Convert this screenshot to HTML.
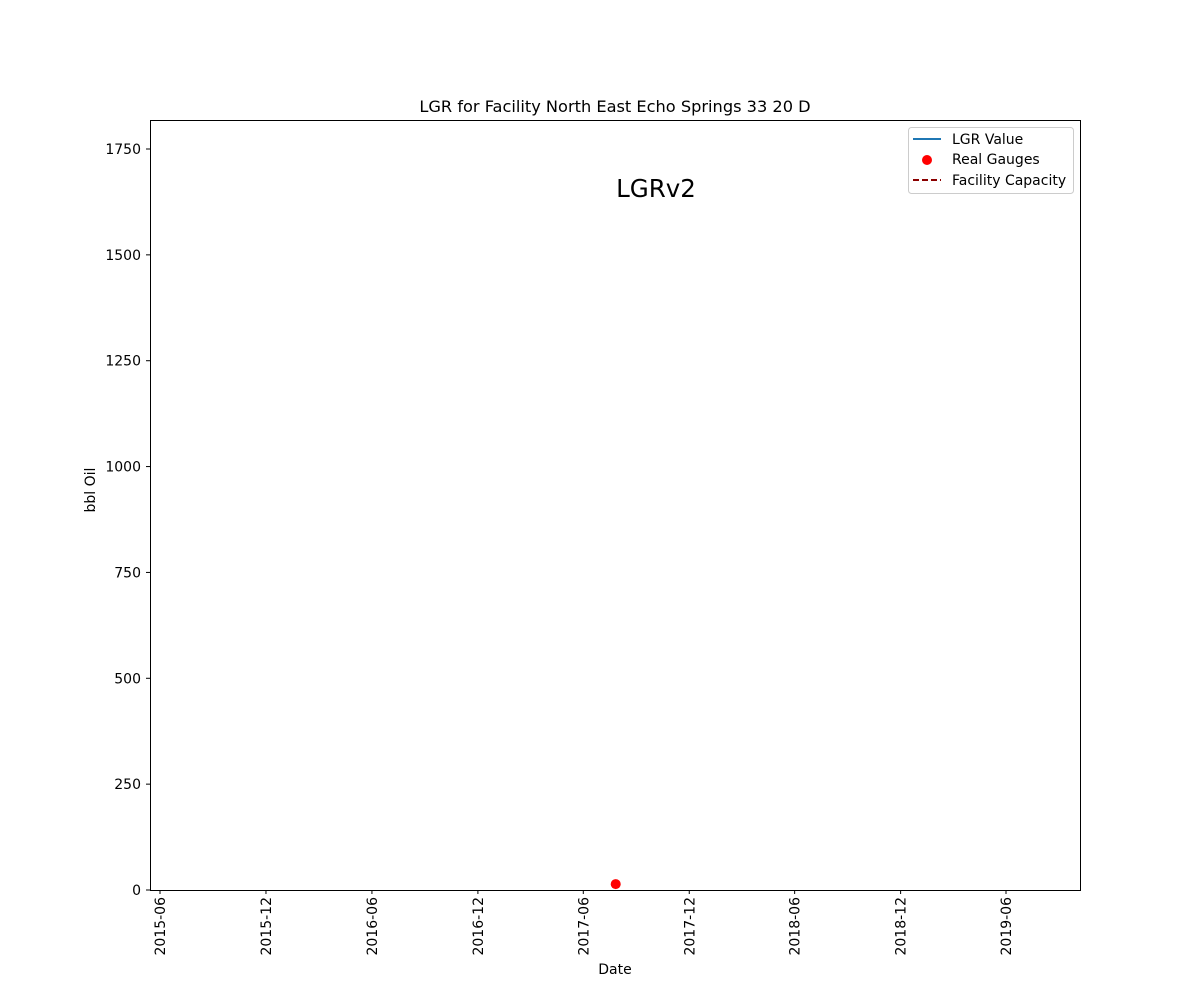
<!DOCTYPE html>
<html><head><meta charset="utf-8"><style>
body{margin:0;background:#fff}
text{font-family:"DejaVu Sans","Liberation Sans",sans-serif}
</style></head><body>
<svg id="chart" width="1200" height="1000" xmlns="http://www.w3.org/2000/svg">
<rect width="1200" height="1000" fill="#fff"/>
<text x="615" y="112" font-size="16.2" text-anchor="middle">LGR for Facility North East Echo Springs 33 20 D</text>
<text x="656" y="197" font-size="24.5" text-anchor="middle">LGRv2</text>
<g id="yticks"></g>
<g id="xticks"></g>
<g id="marks"></g>
<rect x="150.5" y="120.5" width="930" height="770" fill="none" stroke="#000" stroke-width="1"/>
<text x="95" y="490" font-size="14" text-anchor="middle" transform="rotate(-90 95 490)">bbl Oil</text>
<text x="615" y="974" font-size="14" text-anchor="middle">Date</text>
<g>
<rect x="908.5" y="127.5" width="165" height="66" rx="3" fill="#fff" stroke="#ccc"/>
<line x1="913" y1="139" x2="941" y2="139" stroke="#1f77b4" stroke-width="2"/>
<text x="952" y="144" font-size="14">LGR Value</text>
<circle cx="927" cy="160" r="5" fill="#ff0000"/>
<text x="952" y="164" font-size="14">Real Gauges</text>
<line x1="913" y1="180" x2="941" y2="180" stroke="#8b0000" stroke-width="2" stroke-dasharray="6,3"/>
<text x="952" y="185" font-size="14">Facility Capacity</text>
</g>
</svg>
<script>
const yTicks=[0,250,500,750,1000,1250,1500,1750];
const xTickLabels=["2015-06","2015-12","2016-06","2016-12","2017-06","2017-12","2018-06","2018-12","2019-06"];
const gaugeDates=["2017-07-27"];
const gaugeValues=[14];
const NS="http://www.w3.org/2000/svg";
function yS(v){return 890-v*(741/1750);}
const d0=Date.parse("2015-06-01"),d1=Date.parse("2019-06-01");
function xS(s){return 160+(Date.parse(s.length===7?s+"-01":s)-d0)/(d1-d0)*846;}
function mk(t,a,p){const e=document.createElementNS(NS,t);for(const k in a)e.setAttribute(k,a[k]);p.appendChild(e);return e;}
const yg=document.getElementById("yticks");
yTicks.forEach(v=>{const y=yS(v);
const l=mk("line",{x1:146,x2:150,y1:y,y2:y,stroke:"#000"},yg);


const t=mk("text",{x:141,y:y+5,"font-size":14,"text-anchor":"end"},yg);t.textContent=v;

});
const xg=document.getElementById("xticks");
xTickLabels.forEach(s=>{const x=xS(s);
const l=mk("line",{x1:x,x2:x,y1:890,y2:894,stroke:"#000"},xg);


const t=mk("text",{x:x+5,y:897,"font-size":14,"text-anchor":"end",transform:`rotate(-90 ${x+5} 897)`},xg);t.textContent=s;

});
const mg=document.getElementById("marks");
gaugeDates.forEach((d,i)=>{const c=mk("circle",{cx:xS(d),cy:yS(gaugeValues[i]),r:5,fill:"#ff0000"},mg);

});
</script>
</body></html>
